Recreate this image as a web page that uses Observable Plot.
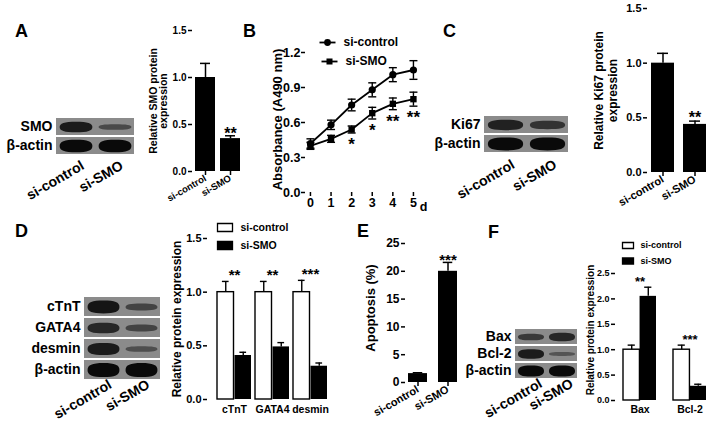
<!DOCTYPE html>
<html><head><meta charset="utf-8">
<script src="https://cdn.jsdelivr.net/npm/d3@7"></script>
<script src="https://cdn.jsdelivr.net/npm/@observablehq/plot@0.6"></script>
<style>
html,body{margin:0;padding:0;background:#fff;}
#fig{position:relative;width:714px;height:422px;overflow:hidden;background:#fff;font-family:"Liberation Sans",Arial,sans-serif;font-weight:bold;color:#000;}
#fig > *{position:absolute;}
.letter{font-size:18px;line-height:18px;}
</style></head><body><div id="fig"></div>
<script>
// ---------------- data ----------------
const groups = ["si-control", "si-SMO"];
const panelLetters = ["A", "B", "C", "D", "E", "F"];
// A
const smoBlotRows = ["SMO", "β-actin"];
const smoBlotIntensity = [[0.85, 0.45], [1, 1]];
const smoExpr = [1.0, 0.35];
const smoErr = [0.15, 0.03];
const smoSig = ["", "**"];
// B
const days = [0, 1, 2, 3, 4, 5];
const absControl = [0.42, 0.58, 0.75, 0.88, 1.01, 1.05];
const absControlErr = [0.04, 0.04, 0.05, 0.06, 0.06, 0.08];
const absSMO = [0.40, 0.46, 0.54, 0.68, 0.76, 0.80];
const absSMOErr = [0.03, 0.03, 0.03, 0.05, 0.05, 0.06];
const absSig = ["", "", "*", "*", "**", "**"];
// C
const ki67BlotRows = ["Ki67", "β-actin"];
const ki67BlotIntensity = [[0.8, 0.65], [1, 1]];
const ki67Expr = [1.0, 0.44];
const ki67Err = [0.09, 0.03];
const ki67Sig = ["", "**"];
// D
const markers = ["cTnT", "GATA4", "desmin"];
const markerBlotRows = ["cTnT", "GATA4", "desmin", "β-actin"];
const markerBlotIntensity = [[0.9, 0.5], [0.75, 0.5], [0.85, 0.4], [1, 1]];
const markerControl = [1.0, 1.0, 1.0];
const markerControlErr = [0.1, 0.1, 0.11];
const markerSMO = [0.41, 0.49, 0.31];
const markerSMOErr = [0.03, 0.04, 0.03];
const markerSig = ["**", "**", "***"];
// E
const apoptosis = [1.6, 20.0];
const apoptosisErr = [0.15, 1.6];
const apoptosisSig = ["", "***"];
// F
const apoProteins = ["Bax", "Bcl-2"];
const apoBlotRows = ["Bax", "Bcl-2", "β-actin"];
const apoBlotIntensity = [[0.6, 0.75], [0.85, 0.35], [1, 1]];
const apoControl = [1.0, 1.0];
const apoControlErr = [0.09, 0.09];
const apoSMO = [2.05, 0.28];
const apoSMOErr = [0.18, 0.04];
const apoSig = ["**", "***"];

// ---------------- helpers ----------------
const fig = document.getElementById("fig");
const FONT = '"Liberation Sans", Arial, Helvetica, sans-serif';
const baseStyle = (size) => ({fontFamily: FONT, fontWeight: "bold", fontSize: size + "px", color: "#000", background: "transparent", overflow: "visible"});
function place(el, left, top) {
  el.style.position = "absolute";
  el.style.left = left + "px";
  el.style.top = top + "px";
  fig.appendChild(el);
  return el;
}
const ellipseSymbol = (hw) => ({
  draw(ctx, size) {
    const b = Math.sqrt(size / Math.PI), a = hw, k = 0.72;
    ctx.moveTo(-a, 0);
    ctx.bezierCurveTo(-a, -k * b, -k * a, -b, 0, -b);
    ctx.bezierCurveTo(k * a, -b, a, -k * b, a, 0);
    ctx.bezierCurveTo(a, k * b, k * a, b, 0, b);
    ctx.bezierCurveTo(-k * a, b, -a, k * b, -a, 0);
    ctx.closePath();
  }
});
const hlineSymbol = {draw(ctx, size) { const r = Math.sqrt(size / Math.PI); ctx.moveTo(-r, 0); ctx.lineTo(r, 0); }};
const rectSymbol = (w, h) => ({draw(ctx) { ctx.rect(-w / 2, -h / 2, w, h); }});

function drawBlot({rows, intensity, left, top, fw, fh, mL, mR = 4, mT = 4, mB = 60, tickPad = 10, laneDx = 7}) {
  const bands = rows.flatMap((row, i) => groups.map((lane, j) => ({row, lane, v: intensity[i][j]})));
  const laneW = fw / groups.length, rowH = fh / rows.length;
  const svg = Plot.plot({
    width: mL + fw + mR, height: mT + fh + mB,
    marginLeft: mL, marginRight: mR, marginTop: mT, marginBottom: mB,
    style: baseStyle(14),
    x: {type: "band", domain: groups, padding: 0},
    y: {type: "band", domain: rows, padding: 0},
    r: {type: "linear", domain: [0, 1], range: [0, rowH * 0.33]},
    color: {type: "linear", domain: [0, 1], range: ["#7c7c7c", "#0a0a0a"]},
    marks: [
      Plot.cell(rows, {y: d => d, fill: "#8b8b8b", insetTop: 1, insetBottom: 1}),
      Plot.dot(bands, {x: "lane", y: "row", r: "v", fill: "v", symbol: ellipseSymbol(laneW * 0.42)}),
      Plot.axisY({tickSize: 0, tickPadding: 4, label: null, fontSize: 14}),
      Plot.axisX({tickSize: 0, tickPadding: tickPad, tickRotate: -30, label: null, fontSize: 14, dx: laneDx})
    ]
  });
  svg.querySelectorAll('g[aria-label="dot"]').forEach(g => g.style.filter = "blur(0.7px)");
  return place(svg, left, top);
}

function drawBars(o) {
  const data = groups.map((group, i) => ({group, v: o.values[i], e: o.errs[i], sig: o.sig[i]}));
  const step = o.fw / (groups.length - o.padIn + 2 * o.padOut), bw = step * (1 - o.padIn);
  const cap = bw * 0.25;
  const svg = Plot.plot({
    width: o.mL + o.fw + o.mR, height: o.mT + o.fh + o.mB,
    marginLeft: o.mL, marginRight: o.mR, marginTop: o.mT, marginBottom: o.mB,
    style: baseStyle(o.tickFont),
    x: {domain: groups, paddingInner: o.padIn, paddingOuter: o.padOut},
    y: {domain: o.domain},
    marks: [
      Plot.barY(data, {x: "group", y: "v", fill: "#000"}),
      Plot.ruleX(data, {x: "group", y1: "v", y2: d => d.v + d.e, strokeWidth: 1.5}),
      Plot.tickY(data, {x: "group", y: d => d.v + d.e, insetLeft: cap, insetRight: cap, strokeWidth: 1.5}),
      Plot.text(data, {x: "group", y: d => d.v + d.e, text: "sig", lineAnchor: "top", dy: -(o.starGap + 0.28 * o.starSize), fontSize: o.starSize}),
      Plot.axisY({ticks: o.ticks, tickFormat: o.fmt, tickSize: 4, tickPadding: 2, fontSize: o.tickFont, line: true, label: null, strokeWidth: 1.5}),
      Plot.axisX({tickRotate: -30, tickSize: 4, tickPadding: 2, fontSize: o.xFont, line: true, label: null, strokeWidth: 1.5}),
      Plot.text([o.ylabel], {frameAnchor: "left", rotate: -90, dx: o.ylabelDx, dy: o.ylabelDy || 0, fontSize: o.ylabelSize, lineHeight: o.lineHeight || 1, textAnchor: "middle", lineAnchor: "middle"})
    ]
  });
  return place(svg, o.left, o.top);
}

function drawGrouped(o) {
  const data = o.cats.map((cat, i) => ({cat, c: o.ctrl[i], ce: o.ctrlErr[i], s: o.smo[i], se: o.smoErr[i], sig: o.sig[i],
    top: Math.max(o.ctrl[i] + o.ctrlErr[i], o.smo[i] + o.smoErr[i])}));
  const step = o.fw / (o.cats.length - o.padIn + 2 * o.padOut), bw = step * (1 - o.padIn);
  const half = bw / 2, q = bw / 4, capHalf = half * 0.22;
  const svg = Plot.plot({
    width: o.mL + o.fw + o.mR, height: o.mT + o.fh + o.mB,
    marginLeft: o.mL, marginRight: o.mR, marginTop: o.mT, marginBottom: o.mB,
    style: baseStyle(o.tickFont),
    x: {domain: o.cats, paddingInner: o.padIn, paddingOuter: o.padOut},
    y: {domain: o.domain},
    marks: [
      Plot.barY(data, {x: "cat", y: "c", fill: "#fff", stroke: "#000", strokeWidth: 1.4, insetRight: half}),
      Plot.barY(data, {x: "cat", y: "s", fill: "#000", insetLeft: half}),
      Plot.ruleX(data, {x: "cat", y1: "c", y2: d => d.c + d.ce, dx: -q, strokeWidth: 1.4}),
      Plot.ruleX(data, {x: "cat", y1: "s", y2: d => d.s + d.se, dx: q, strokeWidth: 1.4}),
      Plot.tickY(data, {x: "cat", y: d => d.c + d.ce, insetLeft: q - capHalf, insetRight: bw - q - capHalf, strokeWidth: 1.4}),
      Plot.tickY(data, {x: "cat", y: d => d.s + d.se, insetLeft: bw - q - capHalf, insetRight: q - capHalf, strokeWidth: 1.4}),
      Plot.ruleY(data, {x: "cat", y: "top", dy: -o.sigGap, insetLeft: q * 0.6, insetRight: q * 0.6, strokeWidth: 1.4}),
      Plot.text(data, {x: "cat", y: "top", text: "sig", lineAnchor: "top", dy: -(o.sigGap + 1.5 + 0.28 * o.starSize), fontSize: o.starSize}),
      Plot.axisY({ticks: o.ticks, tickFormat: o.fmt, tickSize: 4, tickPadding: 2, fontSize: o.tickFont, line: true, label: null, strokeWidth: 1.5}),
      Plot.axisX({tickSize: 0, tickPadding: o.xPad, fontSize: o.xFont, line: true, label: null, strokeWidth: 1.5}),
      Plot.text([o.ylabel], {frameAnchor: "left", rotate: -90, dx: o.ylabelDx, dy: o.ylabelDy || 0, fontSize: o.ylabelSize, textAnchor: "middle", lineAnchor: "middle"}),
      // legend
      Plot.dot([groups[0]], {frameAnchor: "top-left", dx: o.lgX, dy: o.lgY0, symbol: rectSymbol(o.lgW, o.lgH), fill: "#fff", stroke: "#000", strokeWidth: 1.3}),
      Plot.dot([groups[1]], {frameAnchor: "top-left", dx: o.lgX, dy: o.lgY1, symbol: rectSymbol(o.lgW, o.lgH), fill: "#000", stroke: "#000", strokeWidth: 1.3}),
      Plot.text([groups[0]], {frameAnchor: "top-left", dx: o.lgTX, dy: o.lgY0, textAnchor: "start", lineAnchor: "middle", fontSize: o.lgFont}),
      Plot.text([groups[1]], {frameAnchor: "top-left", dx: o.lgTX, dy: o.lgY1, textAnchor: "start", lineAnchor: "middle", fontSize: o.lgFont})
    ]
  });
  return place(svg, o.left, o.top);
}

function drawLines() {
  const absData = [
    ...days.map((day, i) => ({series: groups[0], day, v: absControl[i], e: absControlErr[i], sig: ""})),
    ...days.map((day, i) => ({series: groups[1], day, v: absSMO[i], e: absSMOErr[i], sig: absSig[i]}))
  ];
  const mL = 65, mT = 22, fw = 110, fh = 140, mR = 18, mB = 25;
  const svg = Plot.plot({
    width: mL + fw + mR, height: mT + fh + mB,
    marginLeft: mL, marginRight: mR, marginTop: mT, marginBottom: mB,
    style: baseStyle(12),
    x: {domain: [-0.24, 5.1]},
    y: {domain: [0, 1.2]},
    symbol: {domain: groups, range: ["circle", "square"]},
    marks: [
      Plot.line(absData, {x: "day", y: "v", z: "series", stroke: "#000", strokeWidth: 1.8}),
      Plot.ruleX(absData, {x: "day", y1: d => d.v - d.e, y2: d => d.v + d.e, strokeWidth: 1.4}),
      Plot.dot(absData, {x: "day", y: d => d.v + d.e, symbol: hlineSymbol, r: 4, fill: "none", stroke: "#000", strokeWidth: 1.4}),
      Plot.dot(absData, {x: "day", y: d => d.v - d.e, symbol: hlineSymbol, r: 4, fill: "none", stroke: "#000", strokeWidth: 1.4}),
      Plot.dot(absData, {x: "day", y: "v", symbol: "series", r: 3.6, fill: "#000", stroke: "none"}),
      Plot.text(absData.filter(d => d.sig), {x: "day", y: d => d.v - d.e, text: "sig", lineAnchor: "top", dy: 5, fontSize: 17}),
      Plot.axisY({ticks: [0, 0.3, 0.6, 0.9, 1.2], tickFormat: d3.format(".1f"), tickSize: 4, tickPadding: 1, fontSize: 12.5, line: true, label: null, strokeWidth: 1.5}),
      Plot.axisX({ticks: days, tickFormat: d => d, tickSize: 4, tickPadding: 2, fontSize: 12.5, line: true, label: null, strokeWidth: 1.5}),
      Plot.text(["d"], {x: () => days[days.length - 1], frameAnchor: "bottom", dx: 10, dy: 14, lineAnchor: "middle", fontSize: 12.5}),
      Plot.text(["Absorbance (A490 nm)"], {frameAnchor: "left", rotate: -90, dx: -28, dy: -3, fontSize: 13, textAnchor: "middle", lineAnchor: "middle"}),
      // legend
      Plot.dot([groups[0]], {frameAnchor: "top-left", dx: 22, dy: -10, symbol: hlineSymbol, r: 8, fill: "none", stroke: "#000", strokeWidth: 1.8}),
      Plot.dot([groups[0]], {frameAnchor: "top-left", dx: 22, dy: -10, symbol: "circle", r: 3.4, fill: "#000"}),
      Plot.text([groups[0]], {frameAnchor: "top-left", dx: 38, dy: -10, textAnchor: "start", lineAnchor: "middle", fontSize: 12}),
      Plot.dot([groups[1]], {frameAnchor: "top-left", dx: 24, dy: 9, symbol: hlineSymbol, r: 8, fill: "none", stroke: "#000", strokeWidth: 1.8}),
      Plot.dot([groups[1]], {frameAnchor: "top-left", dx: 24, dy: 9, symbol: "square", r: 3.4, fill: "#000"}),
      Plot.text([groups[1]], {frameAnchor: "top-left", dx: 40, dy: 9, textAnchor: "start", lineAnchor: "middle", fontSize: 12})
    ]
  });
  return place(svg, 305 - mL, 52 - mT);
}

// ---------------- panels ----------------
// A
drawBlot({rows: smoBlotRows, intensity: smoBlotIntensity, left: 0, top: 113, fw: 78, fh: 38, mL: 56, tickPad: 9, laneDx: 7});
drawBars({values: smoExpr, errs: smoErr, sig: smoSig, left: 130, top: 18, fw: 50, fh: 141, mL: 62, mT: 12, mR: 6, mB: 45,
  domain: [0, 1.5], ticks: [0, 0.5, 1, 1.5], fmt: d3.format(".1f"), padIn: 0.2, padOut: 0.1, tickFont: 10, xFont: 9.5,
  ylabel: "Relative SMO protein\nexpression", ylabelSize: 10.5, ylabelDx: -33.5, lineHeight: 0.95, starSize: 16, starGap: 4});
// B
drawLines();
// C
drawBlot({rows: ki67BlotRows, intensity: ki67BlotIntensity, left: 420, top: 110, fw: 84, fh: 39, mL: 64, tickPad: 10, laneDx: 8});
drawBars({values: ki67Expr, errs: ki67Err, sig: ki67Sig, left: 580, top: 0, fw: 63, fh: 164, mL: 67, mT: 8, mR: 4, mB: 42,
  domain: [0, 1.5], ticks: [0, 0.5, 1, 1.5], fmt: d3.format(".1f"), padIn: 0.27, padOut: 0.09, tickFont: 11, xFont: 11,
  ylabel: "Relative Ki67 protein\nexpression", ylabelSize: 12, ylabelDx: -42, lineHeight: 1.15, starSize: 16, starGap: 5});
// D
drawBlot({rows: markerBlotRows, intensity: markerBlotIntensity, left: 0, top: 291, fw: 76, fh: 86, mL: 84, mB: 60, tickPad: 2, laneDx: 7});
drawGrouped({cats: markers, ctrl: markerControl, ctrlErr: markerControlErr, smo: markerSMO, smoErr: markerSMOErr, sig: markerSig,
  left: 150, top: 215, fw: 131, fh: 161, mL: 57, mT: 23, mR: 10, mB: 22,
  domain: [0, 1.5], ticks: [0, 0.5, 1, 1.5], fmt: d3.format(".1f"), padIn: 0.1026, padOut: 0.2308,
  tickFont: 11, xFont: 10.5, xPad: 6, ylabel: "Relative protein expression", ylabelSize: 12, ylabelDx: -30,
  starSize: 15, sigGap: 6, lgX: 17.5, lgY0: -11, lgY1: 7, lgW: 15, lgH: 8, lgTX: 33, lgFont: 10.5});
// E
drawBars({values: apoptosis, errs: apoptosisErr, sig: apoptosisSig, left: 350, top: 225, fw: 55, fh: 139, mL: 55, mT: 18, mR: 5, mB: 40,
  domain: [0, 25], ticks: [0, 5, 10, 15, 20, 25], fmt: d3.format("d"), padIn: 0.367, padOut: 0.1, tickFont: 12, xFont: 11,
  ylabel: "Apoptosis (%)", ylabelSize: 13, ylabelDx: -35, ylabelDy: -5, starSize: 15, starGap: 4});
// F
drawBlot({rows: apoBlotRows, intensity: apoBlotIntensity, left: 425, top: 324, fw: 62, fh: 51, mL: 90, mB: 60, tickPad: 3, laneDx: 10});
drawGrouped({cats: apoProteins, ctrl: apoControl, ctrlErr: apoControlErr, smo: apoSMO, smoErr: apoSMOErr, sig: apoSig,
  left: 540, top: 225, fw: 98, fh: 127, mL: 75, mT: 48, mR: 1, mB: 21,
  domain: [0, 2.5], ticks: [0, 0.5, 1, 1.5, 2, 2.5], fmt: d3.format(".1f"), padIn: 0.35, padOut: 0.137,
  tickFont: 9, xFont: 10.5, xPad: 5, ylabel: "Relative protein expression", ylabelSize: 10, ylabelDx: -25, ylabelDy: -7,
  starSize: 13, sigGap: 5, lgX: 12.5, lgY0: -28, lgY1: -12.5, lgW: 11, lgH: 6, lgTX: 25, lgFont: 9});

// panel letters
const letterPos = [[15, 22], [243, 22], [443, 22], [15, 222], [357, 222], [488, 223]];
panelLetters.forEach((L, i) => {
  const d = document.createElement("div");
  d.className = "letter";
  d.textContent = L;
  place(d, letterPos[i][0], letterPos[i][1]);
});
</script></body></html>
